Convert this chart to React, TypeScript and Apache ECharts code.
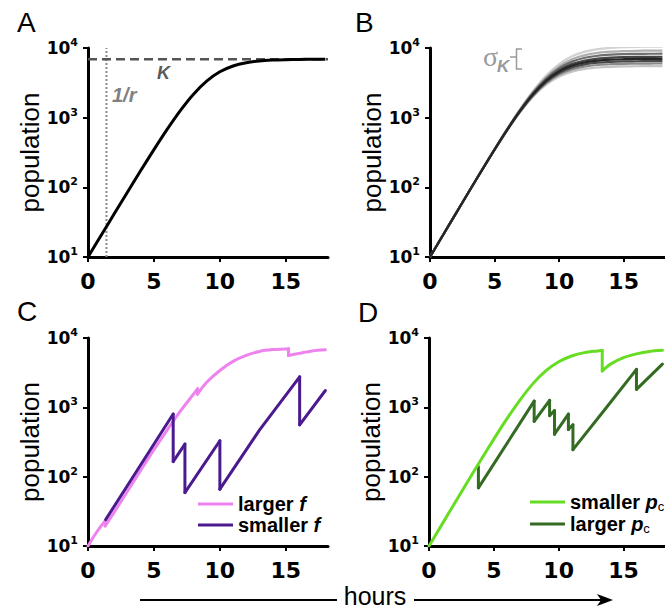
import React, { useEffect, useRef } from "react";
import * as echarts from "echarts";

// ---------- data ----------
const hours = [0, 1, 2, 3, 4, 5, 6, 7, 8, 9, 10, 11, 12, 13, 14, 15, 16, 17, 18];
const xTickValues = [0, 5, 10, 15];
const decadeTicks = [10, 100, 1000, 10000];

// Panel A
const popA = [10, 20.5, 42, 85.8, 174, 348, 679, 1264, 2177, 3354, 4555, 5518, 6150, 6514, 6706, 6804, 6853, 6877, 6889];
const carryingK = 6900;
const inverseR = 1.4;

// Panel B (family of curves with different K)
const popB_K10500 = [10, 20.5, 42.1, 86.1, 175.4, 354, 702, 1348, 2439, 4024, 5887, 7602, 8857, 9630, 10058, 10280, 10392, 10447, 10474];
const popB_K9200 = [10, 20.5, 42.1, 86, 175, 352, 696, 1324, 2361, 3817, 5455, 6897, 7914, 8526, 8859, 9031, 9117, 9159, 9180];
const popB_K8300 = [10, 20.5, 42, 85.9, 174.6, 351, 690, 1304, 2298, 3653, 5127, 6378, 7238, 7747, 8022, 8162, 8232, 8267, 8284];
const popB_K7500 = [10, 20.5, 42, 85.8, 174.3, 349.5, 684, 1282, 2232, 3490, 4809, 5895, 6622, 7046, 7272, 7387, 7445, 7473, 7487];
const popB_K7000 = [10, 20.5, 42, 85.8, 174, 348, 680, 1267, 2186, 3378, 4599, 5582, 6230, 6603, 6801, 6902, 6952, 6976, 6989];
const popB_K6500 = [10, 20.5, 42, 85.7, 173.7, 347, 675, 1250, 2135, 3257, 4378, 5259, 5831, 6156, 6328, 6415, 6458, 6480, 6490];
const popB_K6000 = [10, 20.5, 42, 85.6, 173.3, 345.6, 669, 1230, 2078, 3127, 4145, 4927, 5425, 5706, 5853, 5928, 5965, 5983, 5992];
const popB_K5500 = [10, 20.5, 42, 85.5, 172.9, 343.8, 662.5, 1208, 2015, 2986, 3901, 4585, 5013, 5252, 5376, 5439, 5470, 5485, 5493];

// Panel C
const tLargerF = [0, 0.5, 1, 1.3, 1.3, 2, 3, 4, 5, 6, 7, 8, 8.3, 8.3, 9, 10, 11, 12, 13, 14, 15, 15.2, 15.2, 16, 17, 18];
const popLargerF = [10, 14.3, 19.5, 23, 19.5, 31, 62, 124, 245, 470, 880, 1550, 1850, 1550, 2300, 3400, 4600, 5600, 6400, 6800, 6950, 7000, 5600, 6000, 6500, 6750];
const tSmallerF = [1.34, 6.46, 6.46, 7.35, 7.35, 10, 10, 13, 16.05, 16.05, 18];
const popSmallerF = [24, 800, 165, 295, 59, 330, 66, 470, 2750, 560, 1750];

// Panel D
const tSmallerPc = [0, 1, 2, 3, 4, 5, 6, 7, 8, 9, 10, 11, 12, 13, 13.36, 13.36, 14, 15, 16, 17, 18];
const popSmallerPc = [10, 20.5, 42, 86, 174, 348, 680, 1260, 2180, 3350, 4550, 5500, 6150, 6500, 6600, 3350, 4200, 5200, 5900, 6400, 6650];
const tLargerPc = [3.81, 3.81, 8.11, 8.11, 9.3, 9.3, 9.68, 9.68, 10.75, 10.75, 11.1, 11.1, 13.5, 16, 16, 18];
const popLargerPc = [140, 69, 1230, 630, 1260, 760, 900, 410, 800, 480, 560, 245, 900, 3530, 1820, 4200];

const zip = (xs: number[], ys: number[]) => xs.map((x, i) => [x, ys[i]]);

const SANS = "Liberation Sans";
const TICKFONT = "DejaVu Sans";

function makeX(gridIndex: number) {
  return {
    type: "value",
    gridIndex,
    min: 0,
    max: 18.2,
    splitLine: { show: false },
    axisLine: { show: true, onZero: false, lineStyle: { color: "#000", width: 3 } },
    axisTick: { show: true, length: 5, customValues: xTickValues, lineStyle: { color: "#000", width: 2 } },
    axisLabel: {
      customValues: xTickValues,
      margin: 13,
      color: "#000",
      fontFamily: TICKFONT,
      fontWeight: "bold",
      fontSize: 22,
    },
  };
}

function makeY(gridIndex: number) {
  return {
    type: "log",
    logBase: 10,
    gridIndex,
    min: 10,
    max: 10000,
    name: "population",
    nameLocation: "middle",
    nameGap: 41,
    nameRotate: 90,
    nameTextStyle: { fontFamily: SANS, fontSize: 26, color: "#000" },
    splitLine: { show: false },
    minorTick: { show: false },
    axisLine: { show: true, lineStyle: { color: "#000", width: 3 } },
    axisTick: { show: true, length: 5, customValues: decadeTicks, lineStyle: { color: "#000", width: 2 } },
    axisLabel: {
      customValues: decadeTicks,
      margin: 10,
      formatter: (v: number) => `{b|10}{s|${Math.round(Math.log10(v))}}`,
      rich: {
        b: { fontFamily: TICKFONT, fontWeight: "bold", fontSize: 17, color: "#000", lineHeight: 22 },
        s: { fontFamily: TICKFONT, fontWeight: "bold", fontSize: 11, color: "#000", lineHeight: 10, verticalAlign: "top" },
      },
    },
  };
}

const legendRich = {
  n: { fontFamily: SANS, fontWeight: "bold", fontSize: 20, color: "#000", lineHeight: 22 },
  i: { fontFamily: SANS, fontWeight: "bold", fontStyle: "italic", fontSize: 20, color: "#000", lineHeight: 22 },
  c: { fontFamily: SANS, fontWeight: "normal", fontSize: 13, color: "#000", lineHeight: 0, verticalAlign: "bottom" },
};

// split a series at its vertical drops: smooth runs + straight vertical pieces
function pieces(name: string, ts: number[], vs: number[], color: string, gi: number, smooth: number | boolean) {
  const out: any[] = [];
  const mk = (data: number[][], sm: number | boolean) => ({
    name,
    type: "line",
    xAxisIndex: gi,
    yAxisIndex: gi,
    data,
    showSymbol: false,
    smooth: sm,
    lineStyle: { color, width: 3, cap: "round", join: "round" },
    itemStyle: { color },
  });
  let cur: number[][] = [[ts[0], vs[0]]];
  for (let i = 1; i < ts.length; i++) {
    if (ts[i] === ts[i - 1]) {
      if (cur.length > 1) out.push(mk(cur, smooth));
      out.push(mk([[ts[i - 1], vs[i - 1]], [ts[i], vs[i]]], false));
      cur = [[ts[i], vs[i]]];
    } else {
      cur.push([ts[i], vs[i]]);
    }
  }
  if (cur.length > 1) out.push(mk(cur, smooth));
  return out;
}

export default function App() {
  const ref = useRef<HTMLDivElement>(null);

  useEffect(() => {
    if (!ref.current) return;
    const chart = echarts.init(ref.current, undefined, { renderer: "svg" });

    const bSeries = [
      { d: popB_K10500, c: "#d2d2d2" },
      { d: popB_K5500, c: "#c4c4c4" },
      { d: popB_K9200, c: "#b0b0b0" },
      { d: popB_K6000, c: "#8a8a8a" },
      { d: popB_K8300, c: "#6e6e6e" },
      { d: popB_K6500, c: "#4a4a4a" },
      { d: popB_K7500, c: "#454545" },
      { d: popB_K7000, c: "#262626" },
    ].map((s, i) => ({
      name: "B" + i,
      type: "line",
      xAxisIndex: 1,
      yAxisIndex: 1,
      data: zip(hours, s.d),
      showSymbol: false,
      smooth: 0.35,
      lineStyle: { color: s.c, width: 2.2 },
      itemStyle: { color: s.c },
    }));

    const option: any = {
      animation: false,
      backgroundColor: "#fff",
      textStyle: { fontFamily: SANS },
      grid: [
        { left: 88, top: 48, width: 240, height: 209 },
        { left: 430, top: 48, width: 240, height: 209 },
        { left: 88, top: 338, width: 240, height: 208 },
        { left: 429, top: 338, width: 240, height: 208 },
      ],
      xAxis: [makeX(0), makeX(1), makeX(2), makeX(3)],
      yAxis: [makeY(0), makeY(1), makeY(2), makeY(3)],
      legend: [
        {
          data: ["larger f", "smaller f"],
          left: 198,
          top: 494,
          orient: "vertical",
          icon: "rect",
          itemWidth: 35,
          itemHeight: 3,
          itemGap: 1,
          padding: 0,
          selectedMode: false,
          formatter: (n: string) => (n === "larger f" ? "{n|larger }{i|f}" : "{n|smaller }{i|f}"),
          textStyle: { rich: legendRich },
        },
        {
          data: ["smaller pc", "larger pc"],
          left: 530,
          top: 492,
          orient: "vertical",
          icon: "rect",
          itemWidth: 35,
          itemHeight: 3,
          itemGap: 1,
          padding: 0,
          selectedMode: false,
          formatter: (n: string) => (n === "smaller pc" ? "{n|smaller }{i|p}{c|c}" : "{n|larger }{i|p}{c|c}"),
          textStyle: { rich: legendRich },
        },
      ],
      series: [
        {
          name: "1/r",
          type: "line",
          xAxisIndex: 0,
          yAxisIndex: 0,
          data: [[inverseR, 10], [inverseR, 10000]],
          showSymbol: false,
          lineStyle: { color: "#8a8a8a", width: 2, type: [2, 2] },
        },
        {
          name: "K",
          type: "line",
          xAxisIndex: 0,
          yAxisIndex: 0,
          data: [[0, carryingK], [18.2, carryingK]],
          showSymbol: false,
          lineStyle: { color: "#555", width: 2.5, type: [9, 5] },
        },
        {
          name: "A",
          type: "line",
          xAxisIndex: 0,
          yAxisIndex: 0,
          data: zip(hours, popA),
          showSymbol: false,
          smooth: 0.35,
          lineStyle: { color: "#000", width: 3 },
        },
        ...bSeries,
        ...pieces("larger f", tLargerF, popLargerF, "#EE82EE", 2, 0.3),
        ...pieces("smaller f", tSmallerF, popSmallerF, "#4B1A8F", 2, false),
        ...pieces("larger pc", tLargerPc, popLargerPc, "#336B22", 3, false),
        ...pieces("smaller pc", tSmallerPc, popSmallerPc, "#66DD22", 3, 0.3),
      ],
      graphic: [
        { type: "text", x: 17, y: 22, style: { text: "A", fontFamily: SANS, fontSize: 28, fill: "#000", verticalAlign: "middle" } },
        { type: "text", x: 355, y: 22, style: { text: "B", fontFamily: SANS, fontSize: 28, fill: "#000", verticalAlign: "middle" } },
        { type: "text", x: 17, y: 311, style: { text: "C", fontFamily: SANS, fontSize: 28, fill: "#000", verticalAlign: "middle" } },
        { type: "text", x: 358, y: 312, style: { text: "D", fontFamily: SANS, fontSize: 28, fill: "#000", verticalAlign: "middle" } },
        { type: "text", x: 157, y: 72.5, style: { text: "K", fontFamily: SANS, fontWeight: "bold", fontStyle: "italic", fontSize: 18, fill: "#5a5a5a", verticalAlign: "middle" } },
        { type: "text", x: 112, y: 94.5, style: { text: "1/r", fontFamily: SANS, fontWeight: "bold", fontStyle: "italic", fontSize: 20, fill: "#808080", verticalAlign: "middle" } },
        { type: "text", x: 483, y: 56, style: { text: "σ", fontFamily: "Liberation Serif", fontSize: 28, fill: "#9a9a9a", verticalAlign: "middle" } },
        { type: "text", x: 497, y: 66.5, style: { text: "K", fontFamily: SANS, fontWeight: "bold", fontStyle: "italic", fontSize: 17, fill: "#9a9a9a", verticalAlign: "middle" } },
        { type: "line", shape: { x1: 510, y1: 57, x2: 516.5, y2: 57 }, style: { stroke: "#9a9a9a", lineWidth: 1.5 } },
        { type: "polyline", shape: { points: [[522, 49], [516.5, 49], [516.5, 69], [522, 69]] }, style: { stroke: "#9a9a9a", lineWidth: 1.5, fill: null } },
        { type: "line", shape: { x1: 140, y1: 600, x2: 337, y2: 600 }, style: { stroke: "#000", lineWidth: 2 } },
        { type: "text", x: 375, y: 596, style: { text: "hours", fontFamily: SANS, fontSize: 25, lineHeight: 20, fill: "#000", align: "center", verticalAlign: "middle" } },
        { type: "line", shape: { x1: 414, y1: 600, x2: 604, y2: 600 }, style: { stroke: "#000", lineWidth: 2 } },
        { type: "polygon", shape: { points: [[597, 594], [613, 600], [597, 606], [601, 600]] }, style: { fill: "#000" } },
      ],
    };

    chart.setOption(option);
    return () => chart.dispose();
  }, []);

  return (
    <div
      ref={ref}
      style={{ position: "fixed", left: 0, top: 0, width: 665, height: 611, background: "#fff" }}
    />
  );
}
